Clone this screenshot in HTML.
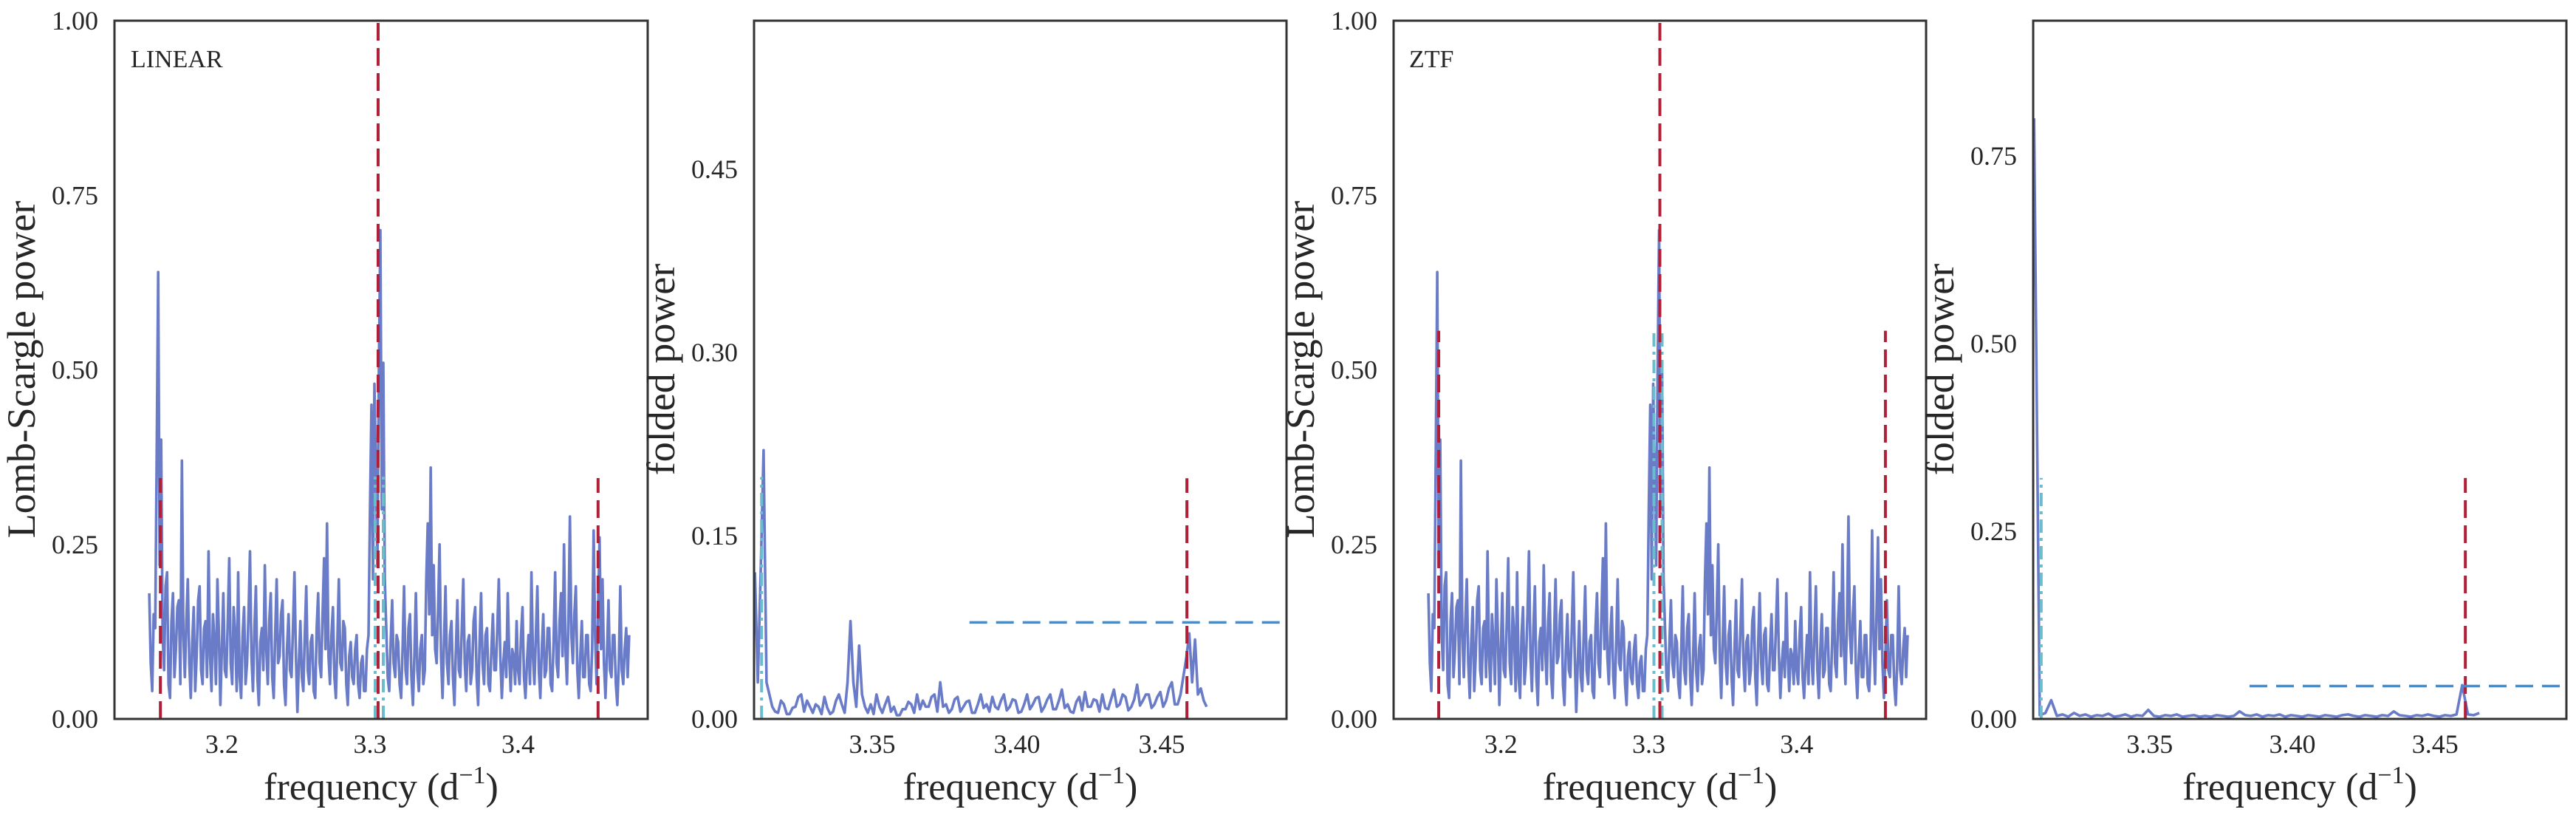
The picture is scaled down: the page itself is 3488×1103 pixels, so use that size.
<!DOCTYPE html>
<html><head><meta charset="utf-8"><title>Periodograms</title>
<style>html,body{margin:0;padding:0;background:#fff;}svg{display:block;}</style>
</head><body>
<svg id="fig" xmlns="http://www.w3.org/2000/svg" width="3488" height="1103" viewBox="0 0 3488 1103" font-family="'Liberation Serif', serif"></svg>
<script>
// ---------- data ----------
const lsFreqStart = 3.151;
const lsFreqStep = 0.001;
const lsPower = [
0.18,0.08,0.04,0.15,0.13,0.38,0.64,0.22,0.40,0.12,0.07,0.19,0.21,0.05,0.03,0.14,0.18,0.06,0.10,0.16,
0.17,0.05,0.37,0.12,0.06,0.14,0.20,0.08,0.03,0.11,0.16,0.04,0.09,0.17,0.19,0.07,0.05,0.13,0.14,0.06,
0.24,0.09,0.04,0.15,0.11,0.05,0.20,0.12,0.02,0.10,0.18,0.07,0.06,0.14,0.23,0.08,0.05,0.16,0.12,0.04,
0.21,0.06,0.03,0.12,0.16,0.05,0.08,0.15,0.24,0.09,0.04,0.13,0.19,0.06,0.02,0.11,0.13,0.07,0.22,0.10,
0.05,0.14,0.18,0.06,0.03,0.12,0.20,0.08,0.09,0.15,0.17,0.05,0.02,0.10,0.15,0.07,0.06,0.13,0.21,0.09,
0.01,0.08,0.14,0.06,0.04,0.12,0.19,0.07,0.05,0.11,0.12,0.04,0.03,0.13,0.18,0.08,0.06,0.15,0.23,0.10,
0.28,0.09,0.05,0.12,0.16,0.06,0.03,0.11,0.20,0.08,0.07,0.14,0.13,0.05,0.02,0.09,0.11,0.06,0.05,0.10,
0.12,0.05,0.03,0.08,0.09,0.04,0.04,0.10,0.12,0.30,0.45,0.20,0.48,0.35,0.22,0.50,0.70,0.30,0.51,0.20,
0.13,0.06,0.04,0.11,0.17,0.08,0.06,0.12,0.11,0.05,0.03,0.10,0.19,0.07,0.05,0.13,0.15,0.06,0.02,0.09,
0.18,0.07,0.04,0.10,0.12,0.05,0.07,0.20,0.28,0.15,0.36,0.12,0.22,0.10,0.08,0.16,0.25,0.09,0.03,0.11,
0.19,0.08,0.05,0.12,0.14,0.06,0.02,0.10,0.17,0.07,0.06,0.13,0.20,0.08,0.04,0.11,0.12,0.05,0.07,0.14,
0.16,0.06,0.02,0.11,0.18,0.08,0.05,0.12,0.13,0.05,0.04,0.10,0.15,0.07,0.07,0.13,0.20,0.09,0.03,0.08,
0.11,0.06,0.18,0.09,0.04,0.10,0.09,0.05,0.14,0.07,0.05,0.12,0.16,0.06,0.03,0.08,0.12,0.05,0.21,0.09,
0.05,0.12,0.19,0.07,0.03,0.10,0.15,0.06,0.07,0.13,0.13,0.05,0.04,0.11,0.21,0.08,0.06,0.14,0.18,0.09,
0.25,0.10,0.05,0.14,0.29,0.12,0.08,0.15,0.19,0.07,0.03,0.09,0.14,0.06,0.06,0.12,0.12,0.05,0.04,0.10,
0.27,0.12,0.05,0.15,0.26,0.10,0.20,0.08,0.03,0.09,0.17,0.07,0.06,0.12,0.12,0.05,0.02,0.08,0.19,0.07,
0.05,0.10,0.13,0.06,0.12
];
const foldFreqStart = 3.3095;
const foldLinStep = 0.001;
const foldLinear = [
0.12,0.03,0.12,0.22,0.03,0.02,0.01,0.006,0.005,0.015,0.012,0.004,0.004,0.009,0.01,0.018,0.02,0.006,0.015,0.01,
0.005,0.012,0.01,0.004,0.018,0.009,0.004,0.006,0.015,0.02,0.012,0.005,0.03,0.08,0.03,0.01,0.06,0.02,0.01,0.005,
0.012,0.004,0.02,0.01,0.005,0.012,0.018,0.006,0.01,0.003,0.003,0.008,0.008,0.014,0.012,0.005,0.02,0.008,0.015,0.01,
0.01,0.018,0.02,0.006,0.03,0.01,0.012,0.005,0.008,0.016,0.018,0.006,0.01,0.014,0.015,0.005,0.005,0.012,0.02,0.009,
0.012,0.006,0.018,0.01,0.008,0.015,0.02,0.007,0.01,0.016,0.015,0.005,0.006,0.012,0.02,0.008,0.012,0.017,0.018,0.006,
0.01,0.016,0.02,0.008,0.008,0.015,0.024,0.009,0.012,0.006,0.005,0.014,0.018,0.007,0.022,0.01,0.01,0.016,0.015,0.006,
0.02,0.009,0.008,0.016,0.024,0.01,0.012,0.02,0.018,0.007,0.01,0.016,0.028,0.011,0.015,0.02,0.02,0.009,0.012,0.018,
0.022,0.01,0.015,0.025,0.03,0.012,0.012,0.02,0.035,0.05,0.07,0.03,0.065,0.02,0.025,0.015,0.01
];
const foldZtfStep = 0.002;
const foldZtf = [
0.80,0.005,0.008,0.025,0.004,0.006,0.003,0.008,0.004,0.006,
0.003,0.005,0.004,0.007,0.003,0.004,0.006,0.003,0.005,0.004,
0.012,0.004,0.003,0.005,0.004,0.006,0.003,0.004,0.005,0.003,
0.004,0.003,0.005,0.004,0.003,0.004,0.010,0.005,0.004,0.006,
0.003,0.005,0.004,0.006,0.003,0.005,0.004,0.003,0.005,0.004,
0.003,0.005,0.004,0.003,0.005,0.006,0.004,0.003,0.005,0.004,
0.003,0.005,0.004,0.010,0.005,0.004,0.003,0.005,0.004,0.006,
0.004,0.003,0.005,0.004,0.006,0.045,0.006,0.005,0.008
];
const lsXTicks = [3.2, 3.3, 3.4];
const lsXTickLabels = ["3.2", "3.3", "3.4"];
const lsYTicks = [0, 0.25, 0.5, 0.75, 1.0];
const lsYTickLabels = ["0.00", "0.25", "0.50", "0.75", "1.00"];
const foldXTicks = [3.35, 3.40, 3.45];
const foldXTickLabels = ["3.35", "3.40", "3.45"];
const foldLinYTicks = [0, 0.15, 0.30, 0.45];
const foldLinYTickLabels = ["0.00", "0.15", "0.30", "0.45"];
const foldZtfYTicks = [0, 0.25, 0.5, 0.75];
const foldZtfYTickLabels = ["0.00", "0.25", "0.50", "0.75"];
const linearRedFreqs = [3.1585, 3.3055, 3.454];
const linearRedTops = [0.345, 1.0, 0.345];
const ztfRedFreqs = [3.158, 3.3075, 3.46];
const ztfRedTops = [0.556, 1.0, 0.556];
const lsCyanFreqs = [3.3035, 3.309];
const linearCyanTop = 0.347;
const ztfCyanTop = 0.555;
const foldLinRed = 3.4587, foldLinRedTop = 0.197;
const foldLinCyan = 3.3118, foldLinCyanTop = 0.198;
const foldLinThresh = 0.079, foldLinThreshStart = 3.3836;
const foldZtfRed = 3.4606, foldZtfRedTop = 0.321;
const foldZtfCyan = 3.312, foldZtfCyanTop = 0.321;
const foldZtfThresh = 0.0438, foldZtfThreshStart = 3.385;

// ---------- drawing ----------
const NS = "http://www.w3.org/2000/svg";
const svg = document.getElementById("fig");
function mk(tag, attrs, parent) {
  const e = document.createElementNS(NS, tag);
  for (const k in attrs) e.setAttribute(k, attrs[k]);
  (parent || svg).appendChild(e);
  return e;
}
const TOP = 28, BOT = 973;
function makeAxes(left, right, xmin, xmax, ymax) {
  return {
    x: v => left + (v - xmin) / (xmax - xmin) * (right - left),
    y: v => BOT - v / ymax * (BOT - TOP),
    left, right
  };
}
function drawFrameTicks(g, ax, xt, xl, yt, yl, ylabel, prefix) {
  xt.forEach((v, i) => {
    const t = mk("text", {x: ax.x(v), y: 1019, "font-size": 36, "text-anchor": "middle", fill: "#262626"}, g);
    t.textContent = xl[i];
    
    
  });
  yt.forEach((v, i) => {
    const t = mk("text", {x: ax.left - 22, y: ax.y(v) + 12, "font-size": 36, "text-anchor": "end", fill: "#262626"}, g);
    t.textContent = yl[i];
    
    
  });
  const xtitle = mk("text", {x: (ax.left + ax.right) / 2, y: 1082, "font-size": 52, "text-anchor": "middle", fill: "#262626"}, g);
  
  
  xtitle.appendChild(document.createTextNode("frequency (d"));
  const sup = mk("tspan", {dy: -22, "font-size": 34}, xtitle);
  sup.textContent = "\u22121";
  const close = mk("tspan", {dy: 22, "font-size": 52}, xtitle);
  close.textContent = ")";
  const cx = ax.left - 126, cy = 500;
  const ytitle = mk("text", {x: cx, y: cy, "font-size": 54, "text-anchor": "middle", fill: "#262626", transform: `rotate(-90 ${cx} ${cy}) translate(0 18)`}, g);
  ytitle.textContent = ylabel;
  
  
}
function clipFor(id, ax) {
  const defs = mk("defs", {});
  const cp = mk("clipPath", {id: id}, defs);
  mk("rect", {x: ax.left, y: TOP, width: ax.right - ax.left, height: BOT - TOP}, cp);
}
function seriesPath(g, ax, start, step, vals, name) {
  let d = "";
  vals.forEach((v, i) => { d += (i ? "L" : "M") + ax.x(start + i * step).toFixed(1) + " " + ax.y(v).toFixed(1); });
  const p = mk("path", {d: d, fill: "none", stroke: "#6a7cc8", "stroke-width": 3.6, "stroke-linejoin": "round"}, g);
  
  
}
function vline(g, ax, f, top, color, dash, name) {
  const l = mk("line", {x1: ax.x(f), x2: ax.x(f), y1: ax.y(0), y2: ax.y(top), stroke: color, "stroke-width": 4, "stroke-dasharray": dash}, g);
  
  
}
function hline(g, ax, v, x0, x1, name) {
  const l = mk("line", {x1: ax.x(x0), x2: ax.x(x1), y1: ax.y(v), y2: ax.y(v), stroke: "#3a8fd8", "stroke-width": 3.5, "stroke-dasharray": "24 12"}, g);
  
  
}
function frame(g, ax) {
  const r = mk("rect", {x: ax.left, y: TOP, width: ax.right - ax.left, height: BOT - TOP, fill: "none", stroke: "#333", "stroke-width": 3}, g);
  
  
}
const RED = "#b01f38", CYAN = "#6bbccc";

// Panel 1: LINEAR LS
(function () {
  const ax = makeAxes(155, 877, 3.1275, 3.4875, 1.0);
  const g = mk("g", {});  
  clipFor("c1", ax);
  const inner = mk("g", {"clip-path": "url(#c1)"}, g);
  seriesPath(inner, ax, lsFreqStart, lsFreqStep, lsPower, "linear-ls-power-line");
  lsCyanFreqs.forEach(f => vline(inner, ax, f, linearCyanTop, CYAN, "18 7 4 7", "cyan-alias-line"));
  linearRedFreqs.forEach((f, i) => vline(inner, ax, f, linearRedTops[i], RED, "24 10", "red-frequency-line"));
  frame(g, ax);
  drawFrameTicks(g, ax, lsXTicks, lsXTickLabels, lsYTicks, lsYTickLabels, "Lomb-Scargle power", "linear-ls");
  const t = mk("text", {x: 177, y: 91, "font-size": 34, fill: "#262626"}, g);
  t.textContent = "LINEAR";
  
  
})();

// Panel 2: LINEAR folded
(function () {
  const ax = makeAxes(1021, 1742, 3.3092, 3.4931, 0.5716);
  const g = mk("g", {});  
  clipFor("c2", ax);
  const inner = mk("g", {"clip-path": "url(#c2)"}, g);
  seriesPath(inner, ax, foldFreqStart, foldLinStep, foldLinear, "linear-folded-power-line");
  vline(inner, ax, foldLinCyan, foldLinCyanTop, CYAN, "18 7 4 7", "cyan-alias-line");
  vline(inner, ax, foldLinRed, foldLinRedTop, RED, "24 10", "red-frequency-line");
  hline(inner, ax, foldLinThresh, foldLinThreshStart, 3.4931, "threshold-line");
  frame(g, ax);
  drawFrameTicks(g, ax, foldXTicks, foldXTickLabels, foldLinYTicks, foldLinYTickLabels, "folded power", "linear-folded");
})();

// Panel 3: ZTF LS
(function () {
  const ax = makeAxes(1887, 2608, 3.1275, 3.4875, 1.0);
  const g = mk("g", {});  
  clipFor("c3", ax);
  const inner = mk("g", {"clip-path": "url(#c3)"}, g);
  seriesPath(inner, ax, lsFreqStart, lsFreqStep, lsPower, "ztf-ls-power-line");
  lsCyanFreqs.forEach(f => vline(inner, ax, f, ztfCyanTop, CYAN, "18 7 4 7", "cyan-alias-line"));
  ztfRedFreqs.forEach((f, i) => vline(inner, ax, f, ztfRedTops[i], RED, "24 10", "red-frequency-line"));
  frame(g, ax);
  drawFrameTicks(g, ax, lsXTicks, lsXTickLabels, lsYTicks, lsYTickLabels, "Lomb-Scargle power", "ztf-ls");
  const t = mk("text", {x: 1908, y: 91, "font-size": 34, fill: "#262626"}, g);
  t.textContent = "ZTF";
  
  
})();

// Panel 4: ZTF folded
(function () {
  const ax = makeAxes(2753, 3475, 3.3092, 3.496, 0.93);
  const g = mk("g", {});  
  clipFor("c4", ax);
  const inner = mk("g", {"clip-path": "url(#c4)"}, g);
  seriesPath(inner, ax, foldFreqStart, foldZtfStep, foldZtf, "ztf-folded-power-line");
  vline(inner, ax, foldZtfCyan, foldZtfCyanTop, CYAN, "18 7 4 7", "cyan-alias-line");
  vline(inner, ax, foldZtfRed, foldZtfRedTop, RED, "24 10", "red-frequency-line");
  hline(inner, ax, foldZtfThresh, foldZtfThreshStart, 3.496, "threshold-line");
  frame(g, ax);
  drawFrameTicks(g, ax, foldXTicks, foldXTickLabels, foldZtfYTicks, foldZtfYTickLabels, "folded power", "ztf-folded");
})();
</script>
</body></html>
